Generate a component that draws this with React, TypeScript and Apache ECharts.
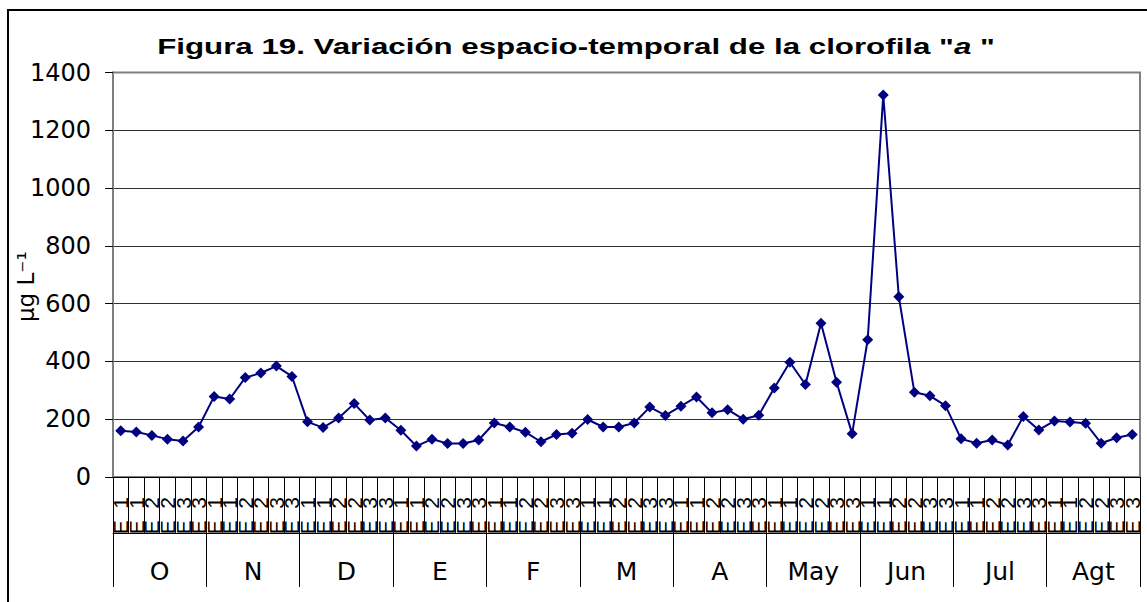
import React, { useEffect, useRef } from "react";
import * as echarts from "echarts";

// Month groups (outer category level) and stations (inner level)
const months = ["O", "N", "D", "E", "F", "M", "A", "May", "Jun", "Jul", "Agt"];
const stations = ["E1", "E1", "E2", "E2", "E3", "E3"];

// Chlorophyll "a" (µg L-1), six readings per month
const valuesO = [160, 156, 144, 131, 125, 173];
const valuesN = [279, 270, 344, 360, 384, 348];
const valuesD = [191, 171, 204, 254, 197, 204];
const valuesE = [162, 107, 131, 116, 116, 128];
const valuesF = [187, 173, 155, 122, 147, 151];
const valuesM = [199, 173, 173, 187, 242, 213];
const valuesA = [245, 277, 222, 233, 200, 214];
const valuesMay = [308, 397, 320, 532, 328, 150];
const valuesJun = [475, 1322, 624, 293, 281, 247];
const valuesJul = [132, 117, 128, 111, 209, 163];
const valuesAgt = [194, 190, 186, 117, 136, 147];

const yMin = 0;
const yMax = 1400;
const yStep = 200;

const titleMain = 'Figura 19. Variación espacio-temporal de la clorofila "';
const titleItalic = "a";
const titleEnd = '\u00a0"';
const yName = "µg L⁻¹";

export default function App() {
  const ref = useRef<HTMLDivElement>(null);

  useEffect(() => {
    document.body.style.margin = "0";
    document.body.style.overflow = "hidden";
    const chart = echarts.init(ref.current as HTMLDivElement, null, { renderer: "svg" });

    const categories = months.flatMap((m) => stations.map((s, i) => `${m}|${s}|${i}`));
    const values = [
      ...valuesO, ...valuesN, ...valuesD, ...valuesE, ...valuesF, ...valuesM,
      ...valuesA, ...valuesMay, ...valuesJun, ...valuesJul, ...valuesAgt,
    ];

    const titleFont = 'bold 22.5px "Liberation Sans", Arial, sans-serif';
    const titleFontItalic = 'italic bold 22.5px "Liberation Sans", Arial, sans-serif';

    chart.setOption({
      animation: false,
      backgroundColor: "#ffffff",
      graphic: [
        {
          type: "rect",
          silent: true,
          z: -10,
          shape: { x: 8, y: 10, width: 1400, height: 900 },
          style: { fill: "none", stroke: "#000", lineWidth: 2 },
        },
        {
          type: "text",
          x: 576,
          y: 46,
          scaleX: 1.39,
          style: {
            text: `{b|${titleMain}}{i|${titleItalic}}{b|${titleEnd}}`,
            font: titleFont,
            fill: "#000",
            align: "center",
            verticalAlign: "middle",
            rich: {
              b: { font: titleFont, fontFamily: "Liberation Sans", fontWeight: "bold", fontSize: 22.5, fill: "#000" },
              i: { font: titleFontItalic, fontFamily: "Liberation Sans", fontWeight: "bold", fontStyle: "italic", fontSize: 22.5, fill: "#000" },
            },
          },
        },
      ],
      grid: {
        left: 113,
        right: 7,
        top: 72.5,
        bottom: 125,
        outerBoundsMode: "none",
        containLabel: false,
        show: true,
        borderColor: "#808080",
        borderWidth: 2,
        backgroundColor: "transparent",
      },
      xAxis: [
        {
          type: "category",
          data: categories,
          position: "bottom",
          boundaryGap: true,
          axisLine: { show: true, lineStyle: { color: "#000", width: 1 } },
          axisTick: { show: true, interval: 0, length: 56, lineStyle: { color: "#000", width: 1 } },
          axisLabel: {
            interval: 0,
            rotate: 90,
            margin: 20,
            fontFamily: "Liberation Sans",
            fontSize: 21,
            color: "#000",
            formatter: (v: string) => {
              const s = v.split("|")[1];
              return s.charAt(0) + "\u00a0\u00a0" + s.slice(1);
            },
          },
          splitLine: { show: false },
        },
        {
          type: "category",
          data: months,
          position: "bottom",
          offset: 56,
          boundaryGap: true,
          axisLine: { show: true, lineStyle: { color: "#000", width: 1 } },
          axisTick: { show: true, interval: 0, length: 54, lineStyle: { color: "#000", width: 1 } },
          axisLabel: {
            interval: 0,
            margin: 26,
            fontFamily: "DejaVu Sans",
            fontSize: 25,
            color: "#000",
          },
          splitLine: { show: false },
        },
      ],
      yAxis: {
        type: "value",
        min: yMin,
        max: yMax,
        interval: yStep,
        name: yName,
        nameLocation: "middle",
        nameGap: 76,
        nameMoveOverlap: false,
        nameTextStyle: { fontFamily: "DejaVu Sans", fontSize: 23, color: "#000", padding: [0, 24, 0, 0] },
        axisLine: { show: true, lineStyle: { color: "#808080", width: 2 } },
        axisTick: { show: true, length: 8, lineStyle: { color: "#000", width: 1 } },
        axisLabel: {
          margin: 22,
          fontFamily: "DejaVu Sans",
          fontSize: 24,
          color: "#000",
          formatter: (v: number) => String(v),
        },
        splitLine: { show: true, showMaxLine: false, lineStyle: { color: "#303030", width: 1 } },
      },
      series: [
        {
          type: "line",
          data: values,
          xAxisIndex: 0,
          symbol: "diamond",
          symbolSize: 11,
          itemStyle: { color: "#000080" },
          lineStyle: { color: "#000080", width: 2 },
        },
      ],
    });

    return () => chart.dispose();
  }, []);

  return <div ref={ref} style={{ width: 1147, height: 602 }} />;
}
